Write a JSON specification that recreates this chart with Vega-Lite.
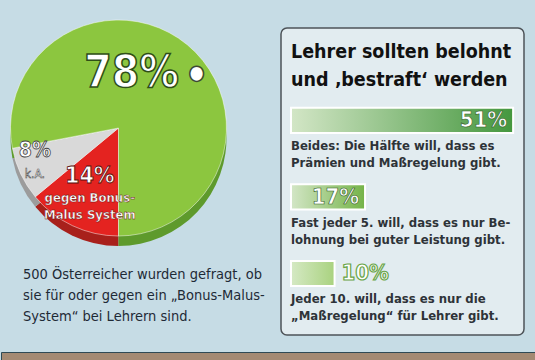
{
  "$schema": "https://vega.github.io/schema/vega-lite/v6.json",
  "padding": {"top": 18, "left": 0, "right": 0, "bottom": 0},
  "background": "#c6dce5",
  "config": {"view": {"stroke": null}, "font": "DejaVu Sans Condensed"},
  "spacing": 15,
  "vconcat": [
    {
      "bounds": "flush",
      "spacing": 45,
      "hconcat": [
        {
          "width": 235,
          "height": 200,
          "data": {"values": [
            {"antwort": "gegen Bonus-Malus-System", "anteil": 14, "rang": 1, "pct": "14%", "zusatz": "gegen Bonus-\nMalus System"},
            {"antwort": "k.A.", "anteil": 8, "rang": 2, "pct": "8%", "zusatz": "k.A."},
            {"antwort": "für Bonus-Malus-System", "anteil": 78, "rang": 3, "pct": "78%", "zusatz": ""}
          ]},
          "title": {
            "text": ["500 Österreicher wurden gefragt, ob", "sie für oder gegen ein „Bonus-Malus-", "System“ bei Lehrern sind."],
            "orient": "bottom", "anchor": "start", "dx": 22, "offset": 22,
            "font": "DejaVu Sans Condensed", "fontSize": 14.5, "fontWeight": "normal",
            "color": "#1e2a36", "lineHeight": 21
          },
          "resolve": {"scale": {"color": "independent"}},
          "encoding": {
            "theta": {"field": "anteil", "type": "quantitative", "stack": true, "scale": {"range": [3.14159, 9.42478]}},
            "order": {"field": "rang", "type": "quantitative"}
          },
          "layer": [
            {
              "mark": {"type": "arc", "yOffset": 10, "outerRadius": 108},
              "encoding": {
                "color": {"field": "antwort", "type": "nominal", "legend": null,
                  "scale": {"domain": ["gegen Bonus-Malus-System", "k.A.", "für Bonus-Malus-System"], "range": ["#a8201b", "#9c9c9c", "#5e9a2c"]}}
              }
            },
            {
              "mark": {"type": "arc", "outerRadius": 108, "stroke": "#ffffff", "strokeWidth": 0.8, "strokeOpacity": 0.6},
              "encoding": {
                "color": {"field": "antwort", "type": "nominal", "legend": null,
                  "scale": {"domain": ["gegen Bonus-Malus-System", "k.A.", "für Bonus-Malus-System"], "range": ["#e42320", "#d9d9d9", "#8cc63f"]}}
              }
            },
            {
              "mark": {"type": "text", "radius": 55, "dx": -22, "dy": -12, "fontSize": 44, "fontWeight": "bold", "fill": "#ffffff", "stroke": "#2f4f17", "strokeWidth": 1.5},
              "encoding": {"text": {"condition": {"test": "datum.rang == 3", "field": "pct"}, "value": ""}}
            },
            {
              "mark": {"type": "text", "radius": 55, "dx": 43, "dy": -13, "fontSize": 20, "fill": "#ffffff", "stroke": "#3d4a33", "strokeWidth": 1.5},
              "encoding": {"text": {"condition": {"test": "datum.rang == 3", "value": "●"}, "value": ""}}
            },
            {
              "mark": {"type": "text", "radius": 88, "dx": -4, "dy": -14, "fontSize": 21, "fontWeight": "bold", "fill": "#ffffff", "stroke": "#444444", "strokeWidth": 0.8},
              "encoding": {"text": {"condition": {"test": "datum.rang == 2", "field": "pct"}, "value": ""}}
            },
            {
              "mark": {"type": "text", "radius": 88, "dx": -4, "dy": 9, "fontSize": 12, "fill": "#ffffff", "stroke": "#444444", "strokeWidth": 0.5},
              "encoding": {"text": {"condition": {"test": "datum.rang == 2", "field": "zusatz"}, "value": ""}}
            },
            {
              "mark": {"type": "text", "radius": 58, "dx": -4, "dy": -4, "fontSize": 23, "fontWeight": "bold", "fill": "#ffffff", "stroke": "#5a0d0b", "strokeWidth": 0.8},
              "encoding": {"text": {"condition": {"test": "datum.rang == 1", "field": "pct"}, "value": ""}}
            },
            {
              "mark": {"type": "text", "radius": 58, "dx": -4, "fontSize": 13, "fontWeight": "bold", "fill": "#ffffff", "stroke": "#5a0d0b", "strokeWidth": 0.4, "baseline": "top", "dy": 12, "lineBreak": "\n", "lineHeight": 17},
              "encoding": {"text": {"condition": {"test": "datum.rang == 1", "field": "zusatz"}, "value": ""}}
            }
          ]
        },
        {
          "width": 243,
          "height": 307,
          "view": {"fill": "#e4edf1", "fillOpacity": 0.92, "stroke": "#4d5358", "strokeWidth": 1.5, "cornerRadius": 6},
          "title": {
            "text": ["Lehrer sollten belohnt", "und ‚bestraft‘ werden"],
            "anchor": "start", "dx": 10, "offset": -62,
            "font": "DejaVu Sans Condensed", "fontSize": 19.5, "fontWeight": "bold",
            "color": "#111111", "lineHeight": 28
          },
          "data": {"values": [
            {"antwort": "Beides", "anteil": 51, "pct": "51%", "text": "Beides: Die Hälfte will, dass es\nPrämien und Maßregelung gibt."},
            {"antwort": "nur Belohnung", "anteil": 17, "pct": "17%", "text": "Fast jeder 5. will, dass es nur Be-\nlohnung bei guter Leistung gibt."},
            {"antwort": "nur Maßregelung", "anteil": 10, "pct": "10%", "text": "Jeder 10. will, dass es nur die\n„Maßregelung“ für Lehrer gibt."}
          ]},
          "encoding": {
            "y": {"field": "antwort", "type": "nominal", "sort": null, "axis": null,
              "scale": {"paddingInner": 0.671, "paddingOuter": 0.842, "align": 0.62}}
          },
          "layer": [
            {
              "transform": [{"filter": "datum.anteil == 51"}],
              "mark": {"type": "bar", "stroke": "#ffffff", "strokeWidth": 2,
                "color": {"gradient": "linear", "x1": 0, "x2": 1, "y1": 0, "y2": 0, "stops": [{"offset": 0, "color": "#d3e6c6"}, {"offset": 1, "color": "#44973e"}]}},
              "encoding": {"x": {"field": "anteil", "type": "quantitative", "axis": null, "scale": {"domain": [-2.3, 53.5], "nice": false}}}
            },
            {
              "transform": [{"filter": "datum.anteil == 17"}],
              "mark": {"type": "bar", "stroke": "#ffffff", "strokeWidth": 2,
                "color": {"gradient": "linear", "x1": 0, "x2": 1, "y1": 0, "y2": 0, "stops": [{"offset": 0, "color": "#d3e6c6"}, {"offset": 1, "color": "#74b347"}]}},
              "encoding": {"x": {"field": "anteil", "type": "quantitative"}}
            },
            {
              "transform": [{"filter": "datum.anteil == 10"}],
              "mark": {"type": "bar", "stroke": "#ffffff", "strokeWidth": 2,
                "color": {"gradient": "linear", "x1": 0, "x2": 1, "y1": 0, "y2": 0, "stops": [{"offset": 0, "color": "#d5e9c4"}, {"offset": 1, "color": "#a9d27f"}]}},
              "encoding": {"x": {"field": "anteil", "type": "quantitative"}}
            },
            {
              "transform": [{"filter": "datum.anteil >= 15"}],
              "mark": {"type": "text", "align": "right", "dx": -6, "fontSize": 22, "fontWeight": "bold", "fill": "#ffffff", "stroke": "#2f5a1d", "strokeWidth": 0.6},
              "encoding": {"x": {"field": "anteil", "type": "quantitative"}, "text": {"field": "pct"}}
            },
            {
              "transform": [{"filter": "datum.anteil < 15"}],
              "mark": {"type": "text", "align": "left", "dx": 7, "fontSize": 22, "fontWeight": "bold", "fill": "#ffffff", "stroke": "#6aa548", "strokeWidth": 1.2},
              "encoding": {"x": {"field": "anteil", "type": "quantitative"}, "text": {"field": "pct"}}
            },
            {
              "mark": {"type": "text", "align": "left", "baseline": "top", "dy": 20, "fontSize": 13, "fontWeight": "bold", "fill": "#2e3338", "lineBreak": "\n", "lineHeight": 17},
              "encoding": {"x": {"datum": 0, "type": "quantitative"}, "text": {"field": "text"}}
            }
          ]
        }
      ]
    },
    {
      "width": 535,
      "height": 13,
      "view": {"fill": "#a48a73", "stroke": "#2f4a55", "strokeWidth": 1},
      "data": {"values": [{"boden": ""}]},
      "mark": {"type": "text"},
      "encoding": {"text": {"field": "boden"}}
    }
  ]
}
